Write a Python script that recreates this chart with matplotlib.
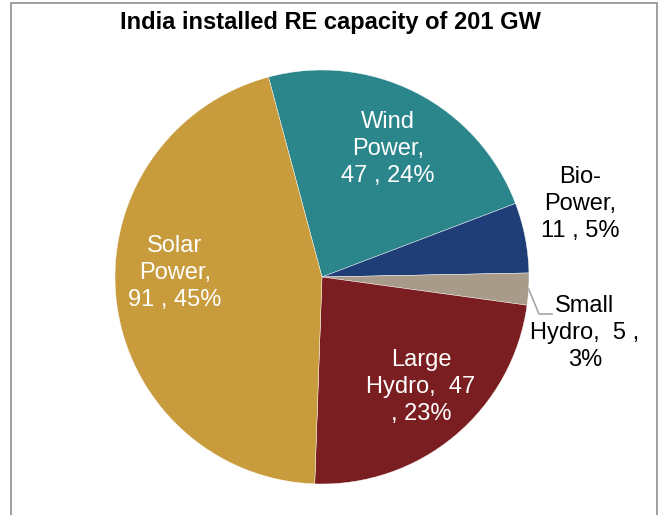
import matplotlib.pyplot as plt
from matplotlib.patches import Rectangle
import numpy as np

# data
sources = ['Wind Power', 'Bio-Power', 'Small Hydro', 'Large Hydro', 'Solar Power']
capacity_gw = [47, 11, 5, 47, 91]
share_pct = [24, 5, 3, 23, 45]
colors = ['#2a868a', '#1f3e78', '#a89b8a', '#7b1e21', '#c89b3c']

label_text = [
    'Wind\nPower,\n47 , 24%',
    'Bio-\nPower,\n11 , 5%',
    'Small\nHydro,  5 ,\n3%',
    'Large\nHydro,  47\n, 23%',
    'Solar\nPower,\n91 , 45%',
]
# label centres in pixels (x, y from top) and colour
label_pos = [(388, 149), (580, 204), (585, 333), (421, 387), (175, 273)]
label_col = ['white', 'black', 'black', 'white', 'white']

plt.rcParams['font.family'] = ['Liberation Sans', 'DejaVu Sans']

W, H = 664, 515
fig = plt.figure(figsize=(W / 100, H / 100), dpi=100)

cx, cy, r = 322, 277, 207
ax = fig.add_axes([(cx - r) / W, (H - cy - r) / H, 2 * r / W, 2 * r / H])
wedges, _ = ax.pie(capacity_gw, colors=colors, startangle=105, counterclock=False,
                   radius=1, wedgeprops=dict(linewidth=0.3, edgecolor='white'))
ax.set_xlim(-1, 1)
ax.set_ylim(-1, 1)
ax.set_aspect('equal')
ax.axis('off')

for txt, (px, py), c in zip(label_text, label_pos, label_col):
    fig.text(px / W, 1 - py / H, txt, ha='center', va='center', multialignment='center',
             fontsize=17, color=c, linespacing=1.3)

# leader line for small hydro
w = wedges[2]
mid = np.deg2rad((w.theta1 + w.theta2) / 2)
x0, y0 = np.cos(mid), np.sin(mid)
ax.plot([x0, (539 - cx) / r, (552 - cx) / r], [y0, (cy - 314) / r, (cy - 314) / r],
        color='#a6a6a6', lw=1.2, clip_on=False)

fig.text(330 / W, 1 - 23 / H, 'India installed RE capacity of 201 GW', ha='center', va='center',
         fontsize=17, fontweight='bold')

fig.patches.append(Rectangle((11 / W, -0.05), (657 - 11) / W, 1.05 - 3 / H,
                             transform=fig.transFigure, fill=False, edgecolor='#8f8f8f', lw=1.2))

fig.savefig('out.png', dpi=100, facecolor='white')
